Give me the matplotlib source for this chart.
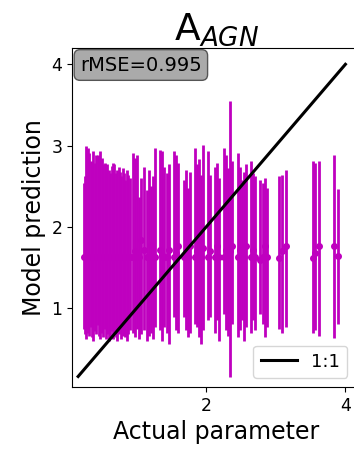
import numpy as np
import matplotlib
matplotlib.use('Agg')
import matplotlib.pyplot as plt

#####################################
# values
#####################################
actual = [0.24, 0.26, 0.28, 0.30, 0.32, 0.34, 0.36, 0.38, 0.40, 0.42, 0.44, 0.46,
          0.48, 0.50, 0.52, 0.54, 0.56, 0.58, 0.60, 0.62, 0.64, 0.66, 0.68, 0.70,
          0.72, 0.74, 0.76, 0.78, 0.80, 0.82, 0.84, 0.86, 0.88, 0.90,
          0.95, 0.98, 1.01, 1.04, 1.07, 1.10, 1.15, 1.18, 1.21, 1.24, 1.27,
          1.34, 1.37, 1.40, 1.43, 1.46, 1.54, 1.57, 1.60, 1.68, 1.71, 1.74, 1.77,
          1.84, 1.87, 1.90, 1.93, 1.96, 2.02, 2.05, 2.12, 2.15, 2.18,
          2.26, 2.29, 2.32, 2.34, 2.37, 2.45, 2.48, 2.51, 2.54, 2.57,
          2.64, 2.67, 2.70, 2.78, 2.81, 2.84, 2.87,
          3.05, 3.09, 3.14, 3.53, 3.57, 3.62, 3.84, 3.89]

pred = [1.63, 1.63, 1.63, 1.63, 1.63, 1.63, 1.63, 1.63, 1.63, 1.63, 1.63, 1.63,
        1.63, 1.63, 1.63, 1.63, 1.63, 1.63, 1.63, 1.63, 1.63, 1.63, 1.63, 1.63,
        1.63, 1.63, 1.63, 1.63, 1.63, 1.63, 1.63, 1.63, 1.63, 1.63,
        1.63, 1.70, 1.63, 1.63, 1.84, 1.72, 1.63, 1.63, 1.78, 1.63, 1.63,
        1.72, 1.66, 1.63, 1.63, 1.72, 1.63, 1.68, 1.76, 1.63, 1.66, 1.63, 1.76,
        1.63, 1.70, 1.84, 1.63, 1.74, 1.63, 1.70, 1.63, 1.76, 1.63,
        1.63, 1.72, 1.65, 1.70, 1.76, 1.63, 1.72, 1.59, 1.63, 1.76,
        1.63, 1.72, 1.63, 1.59, 1.63, 1.76, 1.63,
        1.62, 1.70, 1.76, 1.62, 1.68, 1.76, 1.76, 1.64]

pred_hi = [2.54, 2.62, 2.99, 2.97, 2.91, 2.81, 2.79, 2.93, 2.79, 2.89, 2.89, 2.83,
           2.93, 2.85, 2.77, 2.79, 2.72, 2.77, 2.70, 2.66, 2.75, 2.79, 2.77, 2.66,
           2.70, 2.74, 2.68, 2.62, 2.72, 2.66, 2.58, 2.70, 2.64, 2.60,
           2.91, 2.85, 2.89, 2.37, 2.60, 2.74, 2.45, 2.70, 2.50, 2.62, 2.97,
           2.95, 2.93, 2.74, 2.66, 2.77, 2.93, 2.89, 2.79, 2.58, 2.70, 2.48, 2.68,
           2.97, 2.77, 2.83, 2.64, 3.01, 2.93, 2.64, 2.74, 2.79, 2.60,
           2.97, 2.89, 2.72, 3.55, 2.81, 2.91, 2.74, 2.58, 2.68, 2.77,
           2.81, 2.66, 2.62, 2.58, 2.54, 2.60, 2.48,
           2.62, 2.64, 2.70, 2.81, 2.79, 2.81, 2.89, 2.46]

pred_lo = [0.75, 0.68, 0.62, 0.70, 0.66, 0.77, 0.64, 0.60, 0.72, 0.68, 0.79, 0.66,
           0.62, 0.70, 0.64, 0.74, 0.62, 0.68, 0.60, 0.66, 0.72, 0.62, 0.70, 0.64,
           0.60, 0.68, 0.74, 0.62, 0.66, 0.70, 0.64, 0.60, 0.68, 0.73,
           0.70, 0.64, 0.75, 0.62, 0.68, 0.73, 0.60, 0.66, 0.70, 0.62, 0.77,
           0.73, 0.60, 0.77, 0.69, 0.56, 0.89, 0.73, 0.69, 0.89, 0.73, 0.65, 0.69,
           0.81, 0.77, 0.65, 0.56, 0.73, 0.85, 0.89, 0.69, 0.85, 0.60,
           0.93, 0.73, 0.66, 0.15, 0.81, 0.65, 0.73, 0.85, 0.60, 0.77,
           0.69, 0.85, 0.73, 0.93, 0.81, 0.65, 0.77,
           0.75, 0.70, 0.77, 0.69, 0.73, 0.66, 0.63, 0.81]

one_to_one = [0.16, 4.0]
rmse = 0.995

#####################################
# errors from the bounds
#####################################
actual = np.array(actual)
pred = np.array(pred)
yerr = [pred - np.array(pred_lo), np.array(pred_hi) - pred]

#####################################
# plot
#####################################
fig = plt.figure(figsize=(3.54, 4.49), dpi=100)
ax = fig.add_axes([0.204, 0.138, 0.815, 0.755])

ax.plot(one_to_one, one_to_one, color='k', lw=2.2, label='1:1', zorder=3)
ax.errorbar(actual, pred, yerr=yerr, fmt='o', color='m', ms=4,
            elinewidth=2.0, zorder=2)

ax.set_xlim(0.075, 4.22)
ax.set_ylim(0.03, 4.2)
ax.set_xticks([2, 4])
ax.set_yticks([1, 2, 3, 4])
ax.tick_params(labelsize=12.5)

ax.set_xlabel('Actual parameter', size=17)
ax.set_ylabel('Model prediction', size=17)
ax.set_title(r'A$_{AGN}$', size=27, pad=4)

ax.text(0.027, 0.978, 'rMSE=%.3f' % rmse, transform=ax.transAxes, size=14,
        ha='left', va='top',
        bbox=dict(boxstyle='round', facecolor='#aaaaaa', edgecolor='#555555'))
ax.legend(loc='lower right', fontsize=13, bbox_to_anchor=(0.985, 0.0))

fig.savefig('out.png', dpi=100)
